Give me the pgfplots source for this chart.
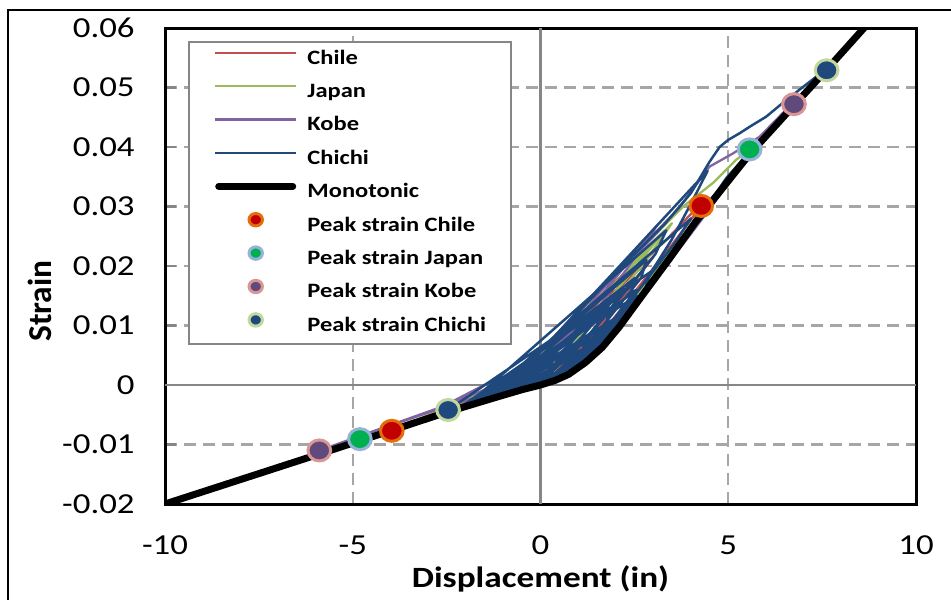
\documentclass[border=0pt]{standalone}
\usepackage{pgfplots}
\pgfplotsset{compat=1.18}
\usepackage{fontspec}
\setmainfont{Carlito}[FakeStretch=1.2]
\newfontfamily\ylabfont{Carlito}
\definecolor{cChile}{HTML}{C0504D}
\definecolor{cJapan}{HTML}{9BBB59}
\definecolor{cKobe}{HTML}{8064A2}
\definecolor{cChichi}{HTML}{1F497D}
\definecolor{gridc}{HTML}{A6A6A6}
\definecolor{zeroc}{HTML}{868686}
\definecolor{mChileF}{HTML}{C00000}
\definecolor{mChileD}{HTML}{E46C0A}
\definecolor{mJapanF}{HTML}{00B050}
\definecolor{mJapanD}{HTML}{95B3D7}
\definecolor{mKobeF}{HTML}{604A7B}
\definecolor{mKobeD}{HTML}{D99694}
\definecolor{mChichiF}{HTML}{1F497D}
\definecolor{mChichiD}{HTML}{C3D69B}

\pgfplotsset{
  linelegend/.style={legend image code/.code={\draw[##1] (0pt,3.4pt) -- (40.5pt,3.4pt);}},
  monolegend/.style={legend image code/.code={\draw[##1] (1.75pt,3.4pt) -- (38.75pt,3.4pt);}},
  peaklegend/.style={legend image code/.code={\draw[##1, mark size=3.1pt, overlay] plot coordinates {(20.25pt,3.4pt)};}},
  peak/.style 2 args={only marks, mark=*, mark size=5.25pt,
    mark options={fill=#1, draw=#2, line width=1.5pt, xscale=1.08}, peaklegend},
}

\pgfplotstableread{
x y
0 0
0.6 0.0035
-0.4 0.0006
-1.0 -0.0014
0.1 0.0042
1.1 0.0100
0.4 0.0062
-0.8 -0.0004
-2.0 -0.0033
-0.8 0.0014
0.5 0.0085
1.5 0.0145
2.3 0.0192
1.5 0.0136
0.4 0.0058
-1.5 -0.0022
-2.8 -0.0050
-3.96 -0.0074
-2.6 -0.0044
-1.2 -0.0006
0.2 0.0070
1.2 0.0128
2.02 0.0160
2.7 0.0205
3.35 0.0244
4.06 0.0291
4.28 0.0301
3.6 0.0244
2.8 0.0180
2.0 0.0116
1.2 0.0056
0.4 0.0014
0 0
-1.2 -0.0018
1.0 0.0095
2.2 0.0170
3.0 0.0215
2.4 0.0165
1.6 0.0100
0.8 0.0045
0 0.0005
}\chile

\pgfplotstableread{
x y
0 0
0.6 0.0040
-0.3 0.0008
-1.1 -0.0016
0.0 0.0038
1.0 0.0098
1.8 0.0145
1.1 0.0105
0.0 0.0035
-1.6 -0.0026
-3.0 -0.0055
-1.6 -0.0012
-0.2 0.0045
1.4 0.0135
2.6 0.0210
3.5 0.0272
2.7 0.0200
1.7 0.0125
0.6 0.0050
-1.4 -0.0020
-3.2 -0.0060
-4.81 -0.0091
-3.2 -0.0056
-1.6 -0.0016
-0.3 0.0040
1.1 0.0128
2.4 0.0212
3.8 0.0300
4.6 0.0340
5.2 0.0378
5.57 0.0396
4.9 0.0338
4.0 0.0268
3.1 0.0196
2.3 0.0130
1.5 0.0072
0.7 0.0028
0 0.0002
-1.3 -0.0019
0.8 0.0095
1.9 0.0165
2.9 0.0235
3.3 0.0260
2.5 0.0195
1.7 0.0135
0.9 0.0070
0.1 0.0015
}\japan

\pgfplotstableread{
x y
0 0
0.5 0.0035
-0.3 0.0010
-1.3 -0.0016
-0.2 0.0030
0.7 0.0085
1.4 0.0125
0.6 0.0075
-0.6 0.0012
-1.6 -0.0020
-2.6 -0.0036
-1.5 0.0000
-0.4 0.0028
0.4 0.0084
1.7 0.0170
2.7 0.0236
3.2 0.0262
2.2 0.0196
1.2 0.0118
0.0 0.0036
-1.2 -0.0010
-2.5 -0.0036
-4.0 -0.0068
-5.89 -0.0110
-4.2 -0.0072
-2.6 -0.0036
-1.4 -0.0006
-0.4 0.0028
0.3 0.0075
1.2 0.0140
2.5 0.0220
3.7 0.0298
4.5 0.0367
5.12 0.0389
5.83 0.0417
6.45 0.0457
6.75 0.0472
5.9 0.0408
5.0 0.0338
4.4 0.0287
3.5 0.0212
2.7 0.0146
1.8 0.0080
1.0 0.0032
0.0 -0.0002
-1.0 -0.0016
0.6 0.0080
1.5 0.0150
2.4 0.0215
3.1 0.0268
2.6 0.0222
1.9 0.0160
1.1 0.0095
0.2 0.0030
-0.5 -0.0008
}\kobe

\pgfplotstableread{
x y
0 0
0.65 0.006
0.15 0.003
-0.9 -0.0012
1.17 0.008
0.71 0.005
0.19 0.002
-1.6 -0.0026
1.21 0.010
0.80 0.007
0.32 0.004
-0.36 0.001
-1.3 -0.0019
2.18 0.012
1.82 0.009
1.39 0.006
0.83 0.003
0.30 0.001
-2.1 -0.0036
1.89 0.014
1.49 0.011
1.09 0.008
0.63 0.005
0.12 0.002
-1.0 -0.0013
2.55 0.016
2.19 0.013
1.82 0.010
1.42 0.007
0.91 0.004
0.16 0.001
-1.8 -0.0030
2.52 0.018
2.13 0.015
1.75 0.012
1.36 0.009
0.93 0.006
0.40 0.003
-1.2 -0.0017
1.48 0.013
1.06 0.010
0.64 0.007
0.17 0.004
-0.48 0.001
-1.7 -0.0027
1.77 0.009
1.35 0.006
0.79 0.003
-0.7 -0.0009
0.94 0.005
0.66 0.002
-1.4 -0.0022
1.42 0.007
1.13 0.004
0.73 0.002
-0.8 -0.0010
1.39 0.009
1.11 0.006
0.39 0.002
-1.7 -0.0028
2.02 0.011
1.79 0.008
1.31 0.005
0.73 0.002
-1.2 -0.0018
1.84 0.013
1.74 0.010
1.19 0.006
0.46 0.002
-2.0 -0.0034
2.57 0.015
2.24 0.012
1.75 0.008
1.08 0.004
0.32 0.001
-1.1 -0.0015
2.49 0.017
2.34 0.014
1.85 0.010
1.30 0.006
0.56 0.002
-2.46 -0.0042
2.93 0.019
2.78 0.016
2.32 0.012
1.82 0.008
1.16 0.004
0.38 0.001
-1.5 -0.0024
2.82 0.021
2.68 0.018
2.17 0.014
1.67 0.010
1.11 0.006
0.39 0.002
-1.9 -0.0031
3.35 0.026
3.06 0.022
2.55 0.018
2.03 0.014
1.52 0.010
0.96 0.006
0.26 0.002
-1.6 -0.0026
4.01 0.028
3.59 0.024
3.11 0.020
2.62 0.016
2.14 0.012
1.64 0.008
0.98 0.004
0.28 0.001
-1.0 -0.0012
4.45 0.036
4.05 0.031
3.50 0.0245
2.85 0.018
2.15 0.012
1.40 0.006
0.66 0.002
-1.4 -0.0022
0.15 0.0065
2.1 0.0195
3.3 0.0270
4.0 0.0322
4.5 0.0375
4.77 0.0400
5.0 0.0412
5.3 0.0423
5.57 0.0434
6.01 0.0451
6.45 0.0474
6.89 0.0496
7.34 0.0518
7.62 0.0529
6.85 0.0478
5.85 0.0412
4.95 0.0348
4.2 0.0278
3.4 0.0214
2.75 0.016
2.29 0.012
1.79 0.008
1.13 0.004
0.35 0.001
0 0
}\chichi

\pgfplotstableread{
x y
-10 -0.0200
-5.89 -0.0116
-4.0 -0.0077
-2.46 -0.0045
-1.2 -0.0021
-0.5 -0.0008
0 0
0.4 0.0008
0.75 0.0018
1.2 0.0038
1.64 0.0063
2.09 0.0097
2.53 0.0135
3.43 0.0212
4.14 0.0275
5.57 0.0388
6.75 0.0470
7.62 0.0530
8.9 0.0620
}\mono

\begin{document}
\begin{tikzpicture}
\useasboundingbox (0pt,0pt) rectangle (475.5pt,299.5pt);
\draw[line width=1pt] (4pt,-20pt) rectangle (500pt,294.5pt);
\begin{axis}[
  at={(82.5pt,47.5pt)}, anchor=south west,
  scale only axis, width=375.5pt, height=238pt,
  xmin=-10, xmax=10, ymin=-0.02, ymax=0.06,
  scaled x ticks=false, scaled y ticks=false,
  xtick={-10,-5,0,5,10},
  xticklabels={-10,-5,0,5,10},
  ytick={-0.02,-0.01,0,0.01,0.02,0.03,0.04,0.05,0.06},
  yticklabels={-0.02,-0.01,0,0.01,0.02,0.03,0.04,0.05,0.06},
  tick label style={font=\fontsize{14.5}{16}\selectfont, inner sep=0pt},
  xticklabel style={anchor=north, yshift=-15.5pt},
  yticklabel style={anchor=east, xshift=-15pt},
  xtick pos=bottom, ytick pos=left,
  tick align=inside, major tick length=5.5pt,
  xtick style={draw=none},
  ytick style={draw=zeroc, line width=1.2pt},
  axis line style={black, line width=1.5pt},
  grid=major,
  major grid style={gridc, line width=1.2pt, dash pattern=on 6pt off 3.5pt},
  xlabel={\bfseries Displacement (in)},
  xlabel style={font=\fontsize{14.7}{16}\selectfont, at={(axis description cs:0.5,0)}, anchor=base, yshift=-41.5pt},
  ylabel={\ylabfont\bfseries Strain},
  ylabel style={font=\fontsize{16.7}{18}\selectfont, at={(axis description cs:-0.1518,0.4265)}, anchor=base},
  legend cell align=left,
  legend style={at={(axis description cs:0.0306,0.9727)}, anchor=north west,
    draw=zeroc, fill=white, line width=1pt,
    inner xsep=12.5pt, inner ysep=3.5pt, row sep=6.2pt, column sep=5pt,
    nodes={inner sep=0pt, text height=7.5pt, text depth=3pt},
    font=\bfseries\fontsize{10.2}{12}\selectfont},
]
\draw[zeroc, line width=1.2pt] (axis cs:0,-0.02) -- (axis cs:0,0.06);
\draw[zeroc, line width=1.2pt] (axis cs:-10,0) -- (axis cs:10,0);

\addplot[cChile, line width=1.15pt, line join=round, linelegend] table[x=x,y=y] {\chile};
\addlegendentry{Chile}
\addplot[cJapan, line width=1.15pt, line join=round, linelegend] table[x=x,y=y] {\japan};
\addlegendentry{Japan}
\addplot[cKobe, line width=1.15pt, line join=round, linelegend] table[x=x,y=y] {\kobe};
\addlegendentry{Kobe}
\addplot[cChichi, line width=1.25pt, line join=round, linelegend] table[x=x,y=y] {\chichi};
\addlegendentry{Chichi}
\addplot[black, line width=3.5pt, line join=round, line cap=round, monolegend] table[x=x,y=y] {\mono};
\addlegendentry{Monotonic}

\addplot[peak={mChileF}{mChileD}] coordinates {(4.28,0.0301) (-3.96,-0.0077)};
\addlegendentry{Peak strain Chile}
\addplot[peak={mJapanF}{mJapanD}] coordinates {(5.57,0.0396) (-4.81,-0.0091)};
\addlegendentry{Peak strain Japan}
\addplot[peak={mKobeF}{mKobeD}] coordinates {(6.75,0.0472) (-5.89,-0.0110)};
\addlegendentry{Peak strain Kobe}
\addplot[peak={mChichiF}{mChichiD}] coordinates {(7.62,0.0529) (-2.46,-0.0042)};
\addlegendentry{Peak strain Chichi}
\end{axis}
\end{tikzpicture}
\end{document}
